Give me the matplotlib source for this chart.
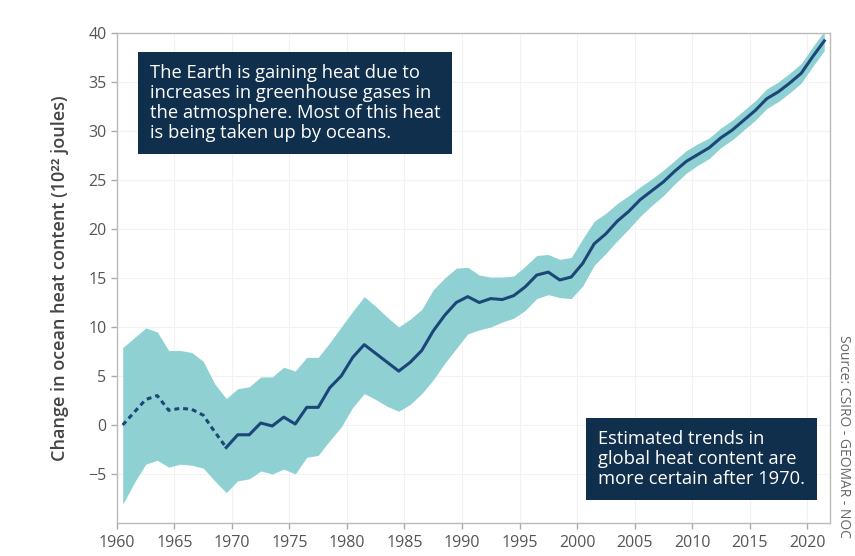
import numpy as np
import matplotlib.pyplot as plt

# mid-year points, 1960.5 .. 2021.5
years = np.arange(1960, 2022) + 0.5

heat = [0.0, 1.3, 2.6, 3.0, 1.5, 1.7, 1.6, 1.0, -0.7, -2.3,
        -1.0, -1.0, 0.2, -0.1, 0.8, 0.1, 1.8, 1.8, 3.8, 5.0,
        6.9, 8.2, 7.3, 6.4, 5.5, 6.4, 7.6, 9.6, 11.2, 12.5,
        13.1, 12.5, 12.9, 12.8, 13.2, 14.1, 15.3, 15.6, 14.8, 15.1,
        16.5, 18.5, 19.5, 20.8, 21.8, 23.0, 23.9, 24.8, 25.9, 26.9,
        27.6, 28.3, 29.3, 30.1, 31.1, 32.1, 33.3, 34.0, 34.9, 35.9,
        37.6, 39.2]

upper = [7.9, 8.9, 9.9, 9.5, 7.6, 7.6, 7.4, 6.5, 4.2, 2.7,
         3.7, 3.9, 4.9, 4.9, 5.9, 5.5, 6.9, 6.9, 8.4, 10.0,
         11.6, 13.1, 12.1, 11.0, 10.0, 10.8, 11.8, 13.8, 15.0, 16.0,
         16.1, 15.3, 15.1, 15.1, 15.2, 16.2, 17.3, 17.4, 16.9, 17.1,
         19.0, 20.8, 21.6, 22.6, 23.4, 24.3, 25.1, 26.0, 27.0, 28.0,
         28.7, 29.3, 30.3, 31.1, 32.1, 33.1, 34.3, 35.0, 35.9, 36.9,
         38.6, 40.2]

lower = [-8.1, -5.9, -4.0, -3.6, -4.3, -4.0, -4.1, -4.4, -5.7, -6.9,
         -5.7, -5.5, -4.7, -5.0, -4.5, -5.0, -3.3, -3.1, -1.6, -0.2,
         1.8, 3.2, 2.6, 1.9, 1.4, 2.1, 3.2, 4.6, 6.3, 7.8,
         9.3, 9.7, 10.0, 10.5, 10.9, 11.7, 12.9, 13.3, 13.0, 12.9,
         14.2, 16.3, 17.5, 18.8, 20.0, 21.3, 22.4, 23.4, 24.6, 25.7,
         26.5, 27.2, 28.3, 29.1, 30.1, 31.1, 32.3, 33.0, 33.9, 34.9,
         36.6, 38.2]

x_ticks = list(range(1960, 2021, 5))
y_ticks = [-5, 0, 5, 10, 15, 20, 25, 30, 35, 40]

note_top = ("The Earth is gaining heat due to\n"
            "increases in greenhouse gases in\n"
            "the atmosphere. Most of this heat\n"
            "is being taken up by oceans.")
note_bottom = ("Estimated trends in\n"
               "global heat content are\n"
               "more certain after 1970.")

BAND = "#8fd1d3"
LINE = "#1b4678"
BOX = "#0f2f4c"
GREY = "#555555"

plt.rcParams["font.family"] = ["Open Sans", "DejaVu Sans"]

fig = plt.figure(figsize=(8.55, 5.56), dpi=100)
ax = fig.add_axes([0.1368, 0.0594, 0.834, 0.8812])

heat = np.array(heat)
split = 9  # 1969.5 -> solid from here on

ax.fill_between(years, lower, upper, color=BAND, lw=0, zorder=1)
ax.plot(years[:split + 1], heat[:split + 1], color=LINE, lw=2.2,
        linestyle=(0, (1.6, 1.3)), zorder=3)
ax.plot(years[split:], heat[split:], color=LINE, lw=2.2, zorder=3)

ax.set_xlim(1960, 2022)
ax.set_ylim(-10, 40)
ax.set_xticks(x_ticks)
ax.set_yticks(y_ticks)
ax.grid(True, color="#f2f2f2", lw=0.8, zorder=0)
ax.set_axisbelow(True)

for s in ax.spines.values():
    s.set_color("#bbbbbb")
    s.set_linewidth(1.0)
ax.tick_params(colors="#aaaaaa", labelcolor=GREY, labelsize=11.5,
               length=4, width=1)
ax.tick_params(axis="x", pad=5)

ax.set_ylabel("Change in ocean heat content (10²² joules)", fontsize=13,
              fontweight="semibold", color="#444444", labelpad=14)

box_style = dict(boxstyle="square,pad=0.65", fc=BOX, ec="none")
ax.text(0.046, 0.937, note_top, transform=ax.transAxes, ha="left", va="top",
        fontsize=13.2, color="white", linespacing=1.15, bbox=box_style)
ax.text(0.675, 0.19, note_bottom, transform=ax.transAxes, ha="left",
        va="top", fontsize=13.2, color="white", linespacing=1.15,
        bbox=box_style)

fig.text(0.986, 0.215, "Source: CSIRO - GEOMAR - NOC", rotation=-90,
         ha="center", va="center", fontsize=10, color="#666666")

fig.savefig("out.png", dpi=100)
